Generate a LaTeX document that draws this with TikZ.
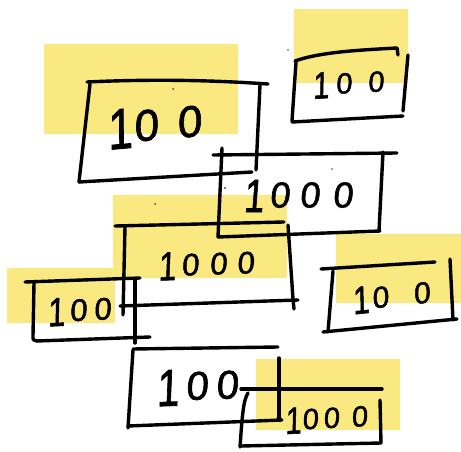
\documentclass[tikz,border=0pt]{standalone}
\usepackage{fontspec}
\setmainfont{Liberation Sans}[FakeSlant=0.1,FakeBold=1.6]
\definecolor{hl}{RGB}{250,233,128}
% a stretched, slightly lowered one, as the pen draws it
\newcommand\longone{\raisebox{-0.13em}{\scalebox{1}[1.3]{1}}}
\begin{document}
\begin{tikzpicture}[x=1pt,y=-1pt,
  ink/.style={line width=3.4pt,line cap=round,line join=round},
  hilite/.style={fill=hl,draw=none},
  num/.style={inner sep=0pt,text=black},
  speck/.style={fill=black!70,draw=none}]
\useasboundingbox (0,0) rectangle (461,452);

% highlighter patches
\fill[hilite] (44,44) rectangle (238,134);
\fill[hilite] (294,9) rectangle (408,83);
\fill[hilite] (113,195) rectangle (287,278);
\fill[hilite] (7,268) rectangle (115,323);
\fill[hilite] (336,234) rectangle (461,303);
\fill[hilite] (256,359) rectangle (400,430);

% box A (100, upper left)
\draw[ink] (87,82) .. controls (150,79) and (210,80) .. (268,84);
\draw[ink] (90,84) -- (79,182);
\draw[ink] (79,182) -- (252,172);
\draw[ink] (260,85) -- (256,170);
\node[num,font=\fontsize{44}{44}\selectfont,rotate=5] (tA) at (154,126) {\longone\kern2pt0\kern19pt0};

% box B (100, upper right)
\draw[ink] (295,61) .. controls (320,52) and (360,50) .. (397,48) -- (398,55);
\draw[ink] (296,62) -- (292,121);
\draw[ink] (292,122) -- (403,116);
\draw[ink] (408,55) -- (403,111);
\node[num,font=\fontsize{29}{29}\selectfont,rotate=3] (tB) at (348,84) {\longone\kern7pt0\kern16pt0};

% box C (1000, upper middle)
\draw[ink] (213,155) -- (397,153);
\draw[ink] (222,148) -- (218,237);
\draw[ink] (218,237) -- (380,231);
\draw[ink] (383,152) -- (379,231);
\node[num,font=\fontsize{36}{36}\selectfont] (tC) at (298,196) {\longone\kern6pt0\kern10pt0\kern13pt0};

% box D (1000, middle)
\draw[ink] (115,226) -- (284,222);
\draw[ink] (125,227) -- (123,315);
\draw[ink] (120,306) -- (298,300);
\draw[ink] (288,225) -- (293,299) -- (294,309);
\node[num,font=\fontsize{31}{31}\selectfont,rotate=2] (tD) at (206,265) {\longone\kern6pt0\kern11pt0\kern10pt0};

% box E (100, left)
\draw[ink] (25,282) -- (140,278);
\draw[ink] (34,283) -- (33,336) .. controls (33,340) .. (37,341);
\draw[ink] (37,341) -- (150,337);
\draw[ink] (135,280) -- (135,343);
\node[num,font=\fontsize{31}{31}\selectfont,rotate=3] (tE) at (79,311) {\longone\kern5pt0\kern7pt0};

% box F (100, right)
\draw[ink] (321,269) -- (435,262);
\draw[ink] (333,271) -- (328,332);
\draw[ink] (323,332) -- (457,319);
\draw[ink] (450,259) -- (453,320);
\node[num,font=\fontsize{30}{30}\selectfont,rotate=6] (tF) at (391,297) {\longone\kern3pt0\kern25pt0};

% box G (100, lower middle)
\draw[ink] (133,349) -- (278,347);
\draw[ink] (133,350) -- (128,428);
\draw[ink] (128,426) -- (282,420);
\draw[ink] (279,358) -- (279,418);
\fill (279,419) circle (2.8pt);
\node[num,font=\fontsize{40}{40}\selectfont,rotate=2] (tG) at (197,387) {\longone\kern7pt0\kern8pt0};

% box H (1000, lower right)
\draw[ink] (241,389) -- (382,389);
\draw[ink] (248,393) .. controls (243,400) and (242,420) .. (240,447);
\draw[ink] (241,446) -- (381,443);
\draw[ink] (380,400) -- (381,443);
\node[num,font=\fontsize{29}{29}\selectfont,rotate=3] (tH) at (326,419) {\longone\kern1pt0\kern5pt0\kern12pt0};

% pen specks
\fill[speck] (173,89) circle (1pt);
\fill[speck] (155,204) circle (1pt);
\fill[speck] (288,50) circle (0.8pt);
\fill[speck] (332,169) circle (0.8pt);
\fill[speck] (225,188) circle (1.2pt);
\end{tikzpicture}
\end{document}
